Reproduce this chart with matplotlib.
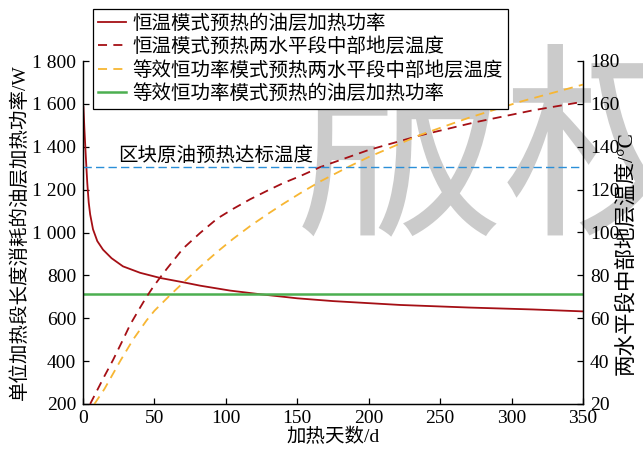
import matplotlib
matplotlib.use("Agg")
import matplotlib.pyplot as plt
from matplotlib.ticker import FuncFormatter, MultipleLocator

plt.rcParams['font.family'] = ['Liberation Serif', 'Noto Sans CJK SC']
plt.rcParams['font.size'] = 14

# constant-temperature mode: oil-layer heating power per unit length (W)
power_days = [0.3, 1, 2, 3, 4, 5, 7, 10, 14, 20, 28, 40, 54, 70, 82, 103, 124,
              150, 175, 222, 270, 315, 350]
power_const_temp = [1585, 1480, 1350, 1230, 1140, 1085, 1015, 960, 920, 880, 842,
                    812, 788, 768, 752, 729, 712, 693, 680, 662, 650, 641, 632]

# constant-temperature mode: mid-section formation temperature (degC)
temp_days_a = [5, 10, 15, 21, 28, 33, 40, 44.5, 49, 54, 58.6, 70, 82, 94, 105,
               117, 129, 140, 152, 166, 200, 236, 275, 315, 350]
temp_const_temp = [20, 26.5, 33, 40.5, 50, 57, 65, 70, 74.5, 79, 83, 92.5, 99.8,
                   106.5, 111, 115.5, 119.5, 123, 126.3, 130.5, 138.5, 145.3,
                   151.5, 157, 161]

# equivalent constant-power mode: mid-section formation temperature (degC)
temp_days_b = [8, 15, 26, 35, 44.5, 50, 61, 70, 82, 94, 105, 117, 129, 140, 152,
               166, 186, 200, 236, 270, 306, 350]
temp_const_power = [20, 27, 40, 50, 59, 63.5, 70.8, 76.5, 84, 91, 97, 103, 108.5,
                    113.3, 118.3, 123.8, 130.7, 135.2, 145.5, 153.5, 161, 169]

power_const_power = 712      # W, equivalent constant power
target_temp = 130.6          # degC, block crude preheat target

labels = ["恒温模式预热的油层加热功率",
          "恒温模式预热两水平段中部地层温度",
          "等效恒功率模式预热两水平段中部地层温度",
          "等效恒功率模式预热的油层加热功率"]

RED = "#a50f15"
ORANGE = "#f7b633"
GREEN = "#4caf50"
BLUE = "#2b8fd8"

fig = plt.figure(figsize=(6.43, 4.55), dpi=100)
ax = fig.add_axes([83 / 643, 1 - 404 / 455, 500 / 643, 343 / 455])
ax2 = ax.twinx()
ax.patch.set_visible(False)
ax2.patch.set_visible(False)

# watermark behind everything
fig.text(296 / 643, 1 - 161 / 455, "版权", fontsize=150, color="#cbcbcb",
         family=['Noto Sans CJK SC'], va="center", ha="left", zorder=-1)

h1, = ax.plot(power_days, power_const_temp, color=RED, lw=1.3)
h4 = ax.axhline(power_const_power, color=GREEN, lw=1.8)
h2, = ax2.plot(temp_days_a, temp_const_temp, color=RED, lw=1.3, ls=(0, (5, 3.5)))
h3, = ax2.plot(temp_days_b, temp_const_power, color=ORANGE, lw=1.3, ls=(0, (5, 3.5)))
ax2.axhline(target_temp, color=BLUE, lw=1.0, ls=(0, (6, 3)))
ax2.text(24.5, 136, "区块原油预热达标温度", fontsize=14, va="center", ha="left")

ax.set_xlim(0, 350)
ax.set_ylim(200, 1800)
ax2.set_ylim(20, 180)
ax.xaxis.set_major_locator(MultipleLocator(50))
ax.yaxis.set_major_locator(MultipleLocator(200))
ax2.yaxis.set_major_locator(MultipleLocator(20))
ax.yaxis.set_major_formatter(FuncFormatter(
    lambda v, p: ("%d %03d" % (v // 1000, v % 1000)) if v >= 1000 else "%d" % v))

for a in (ax, ax2):
    a.spines['top'].set_visible(False)
    for s in a.spines.values():
        s.set_linewidth(0.9)
ax.tick_params(direction="in", length=4.5, width=0.9, pad=5, labelsize=14)
ax.tick_params(axis="x", pad=4)
ax2.tick_params(direction="in", length=4.5, width=0.9, pad=5, labelsize=14)

ax.set_xlabel("加热天数/d", fontsize=14, labelpad=1)
ax.set_ylabel("单位加热段长度消耗的油层加热功率/W", fontsize=14, labelpad=2)
ax2.set_ylabel("两水平段中部地层温度/°C", fontsize=15.5)
ax2.yaxis.set_label_coords(1.066, 0.44)

leg = ax2.legend([h1, h2, h3, h4], labels, loc="upper left",
                 bbox_to_anchor=(93 / 643, 1 - 9 / 455),
                 bbox_transform=fig.transFigure, borderaxespad=0,
                 fontsize=14, handlelength=1.4, handletextpad=0.35,
                 borderpad=0.28, labelspacing=0.24, fancybox=False,
                 framealpha=1, edgecolor="black")
leg.get_frame().set_linewidth(0.9)
leg.set_zorder(10)

fig.savefig("out.png", dpi=100)
